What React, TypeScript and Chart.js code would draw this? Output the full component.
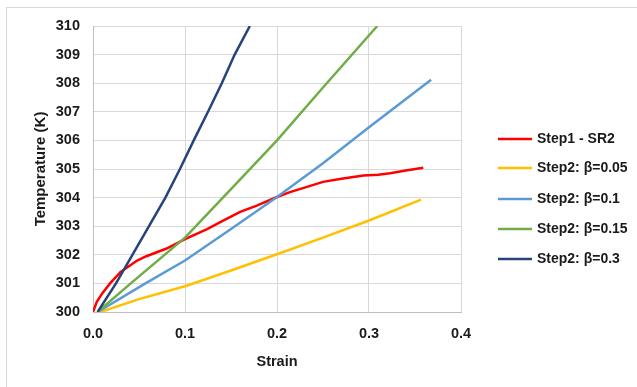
import React, { useEffect, useRef } from 'react';
import { Chart, registerables } from 'chart.js';

Chart.register(...registerables);

const seriesLabels = ['Step1 - SR2', 'Step2: β=0.05', 'Step2: β=0.1', 'Step2: β=0.15', 'Step2: β=0.3'];
const seriesColors = ['#FF0000', '#FFC000', '#5B9BD5', '#70AD47', '#264478'];

const sr2Strain = [0, 0.004, 0.01, 0.0185, 0.03, 0.048, 0.058, 0.08, 0.1, 0.124, 0.142, 0.16, 0.178, 0.2, 0.214, 0.23, 0.25, 0.27, 0.294, 0.31, 0.323, 0.34, 0.359];
const sr2Temp = [300, 300.35, 300.65, 301, 301.4, 301.8, 301.95, 302.22, 302.55, 302.9, 303.2, 303.5, 303.72, 304.02, 304.19, 304.35, 304.55, 304.66, 304.77, 304.8, 304.85, 304.95, 305.04];

const b005Strain = [0.008, 0.05, 0.1, 0.15, 0.2, 0.25, 0.3, 0.3566];
const b005Temp = [300, 300.45, 300.9, 301.45, 302.02, 302.6, 303.2, 303.93];

const b01Strain = [0.005, 0.057, 0.1, 0.15, 0.2, 0.25, 0.3, 0.3675];
const b01Temp = [300, 301, 301.8, 302.9, 304.02, 305.2, 306.46, 308.12];

const b015Strain = [0.005, 0.041, 0.1, 0.15, 0.2, 0.25, 0.309];
const b015Temp = [300, 301, 302.6, 304.3, 306.0, 307.85, 310];

const b03Strain = [0.005, 0.025, 0.0787, 0.0945, 0.1095, 0.125, 0.14, 0.154, 0.1705];
const b03Temp = [300, 301, 304, 305, 306, 307, 308, 309, 310];

const xTicks = [0, 0.1, 0.2, 0.3, 0.4];
const yTicks = [300, 301, 302, 303, 304, 305, 306, 307, 308, 309, 310];

const strains = [sr2Strain, b005Strain, b01Strain, b015Strain, b03Strain];
const temps = [sr2Temp, b005Temp, b01Temp, b015Temp, b03Temp];

const FONT = '"Liberation Sans", Arial, sans-serif';
const TEXT = '#1a1a1a';
const GRID = '#d9d9d9';

export default function App() {
  const ref = useRef<HTMLCanvasElement>(null);
  useEffect(() => {
    document.body.style.margin = '0';
    const canvas = ref.current!;
    const deco = {
      id: 'deco',
      beforeDraw(c: any) {
        const g = c.ctx;
        g.save();
        g.fillStyle = '#ffffff';
        g.fillRect(0, 0, c.width, c.height);
        g.strokeStyle = GRID;
        g.lineWidth = 1;
        g.strokeRect(6.5, 7.5, 700, 500);
        g.restore();
      },
      afterDraw(c: any) {
        const g = c.ctx;
        g.save();
        const ys = [139, 168, 199, 229, 259];
        c.data.datasets.forEach((ds: any, i: number) => {
          const y = ys[i];
          g.strokeStyle = ds.borderColor;
          g.lineWidth = 2.5;
          g.beginPath();
          g.moveTo(498, y);
          g.lineTo(532, y);
          g.stroke();
          g.fillStyle = TEXT;
          g.font = `bold 14px ${FONT}`;
          g.textBaseline = 'middle';
          g.textAlign = 'left';
          g.fillText(ds.label, 537, y);
        });
        g.restore();
      },
    };
    const chart = new Chart(canvas, {
      type: 'line',
      data: {
        datasets: seriesLabels.map((label, i) => ({
          label,
          data: strains[i].map((x, k) => ({ x, y: temps[i][k] })),
          borderColor: seriesColors[i],
          backgroundColor: seriesColors[i],
          borderWidth: 2.5,
          pointRadius: 0,
          tension: 0,
          fill: false,
          order: 5 - i,
        })),
      },
      options: {
        animation: false,
        responsive: false,
        layout: { padding: { top: 26, right: 176, left: 0, bottom: 0 } },
        plugins: { legend: { display: false }, tooltip: { enabled: false } },
        scales: {
          x: {
            type: 'linear',
            min: 0,
            max: 0.4,
            afterFit: (s: any) => { s.height = 75; },
            afterBuildTicks: (s: any) => { s.ticks = xTicks.map((v) => ({ value: v })); },
            ticks: {
              callback: (v: any) => Number(v).toFixed(1),
              font: { family: FONT, size: 14.5, weight: 'bold' },
              color: TEXT,
              padding: 13,
              maxRotation: 0,
            },
            grid: { color: GRID, drawTicks: false },
            border: { color: '#bfbfbf' },
            title: {
              display: true,
              text: 'Strain',
              font: { family: FONT, size: 14.5, weight: 'bold' },
              color: TEXT,
              padding: { top: 0, bottom: 16 },
            },
          },
          y: {
            type: 'linear',
            min: 300,
            max: 310,
            afterFit: (s: any) => { s.width = 93; },
            afterBuildTicks: (s: any) => { s.ticks = yTicks.map((v) => ({ value: v })); },
            ticks: {
              font: { family: FONT, size: 14.5, weight: 'bold' },
              color: TEXT,
              padding: 13,
            },
            grid: { color: GRID, drawTicks: false },
            border: { color: '#bfbfbf' },
            title: {
              display: true,
              text: 'Temperature (K)',
              font: { family: FONT, size: 15, weight: 'bold' },
              color: TEXT,
              padding: { top: 32, bottom: 0 },
            },
          },
        },
      },
      plugins: [deco],
    } as any);
    return () => chart.destroy();
  }, []);
  return (
    <div style={{ width: 637, height: 387 }}>
      <canvas ref={ref} width={637} height={387} style={{ display: 'block' }} />
    </div>
  );
}
